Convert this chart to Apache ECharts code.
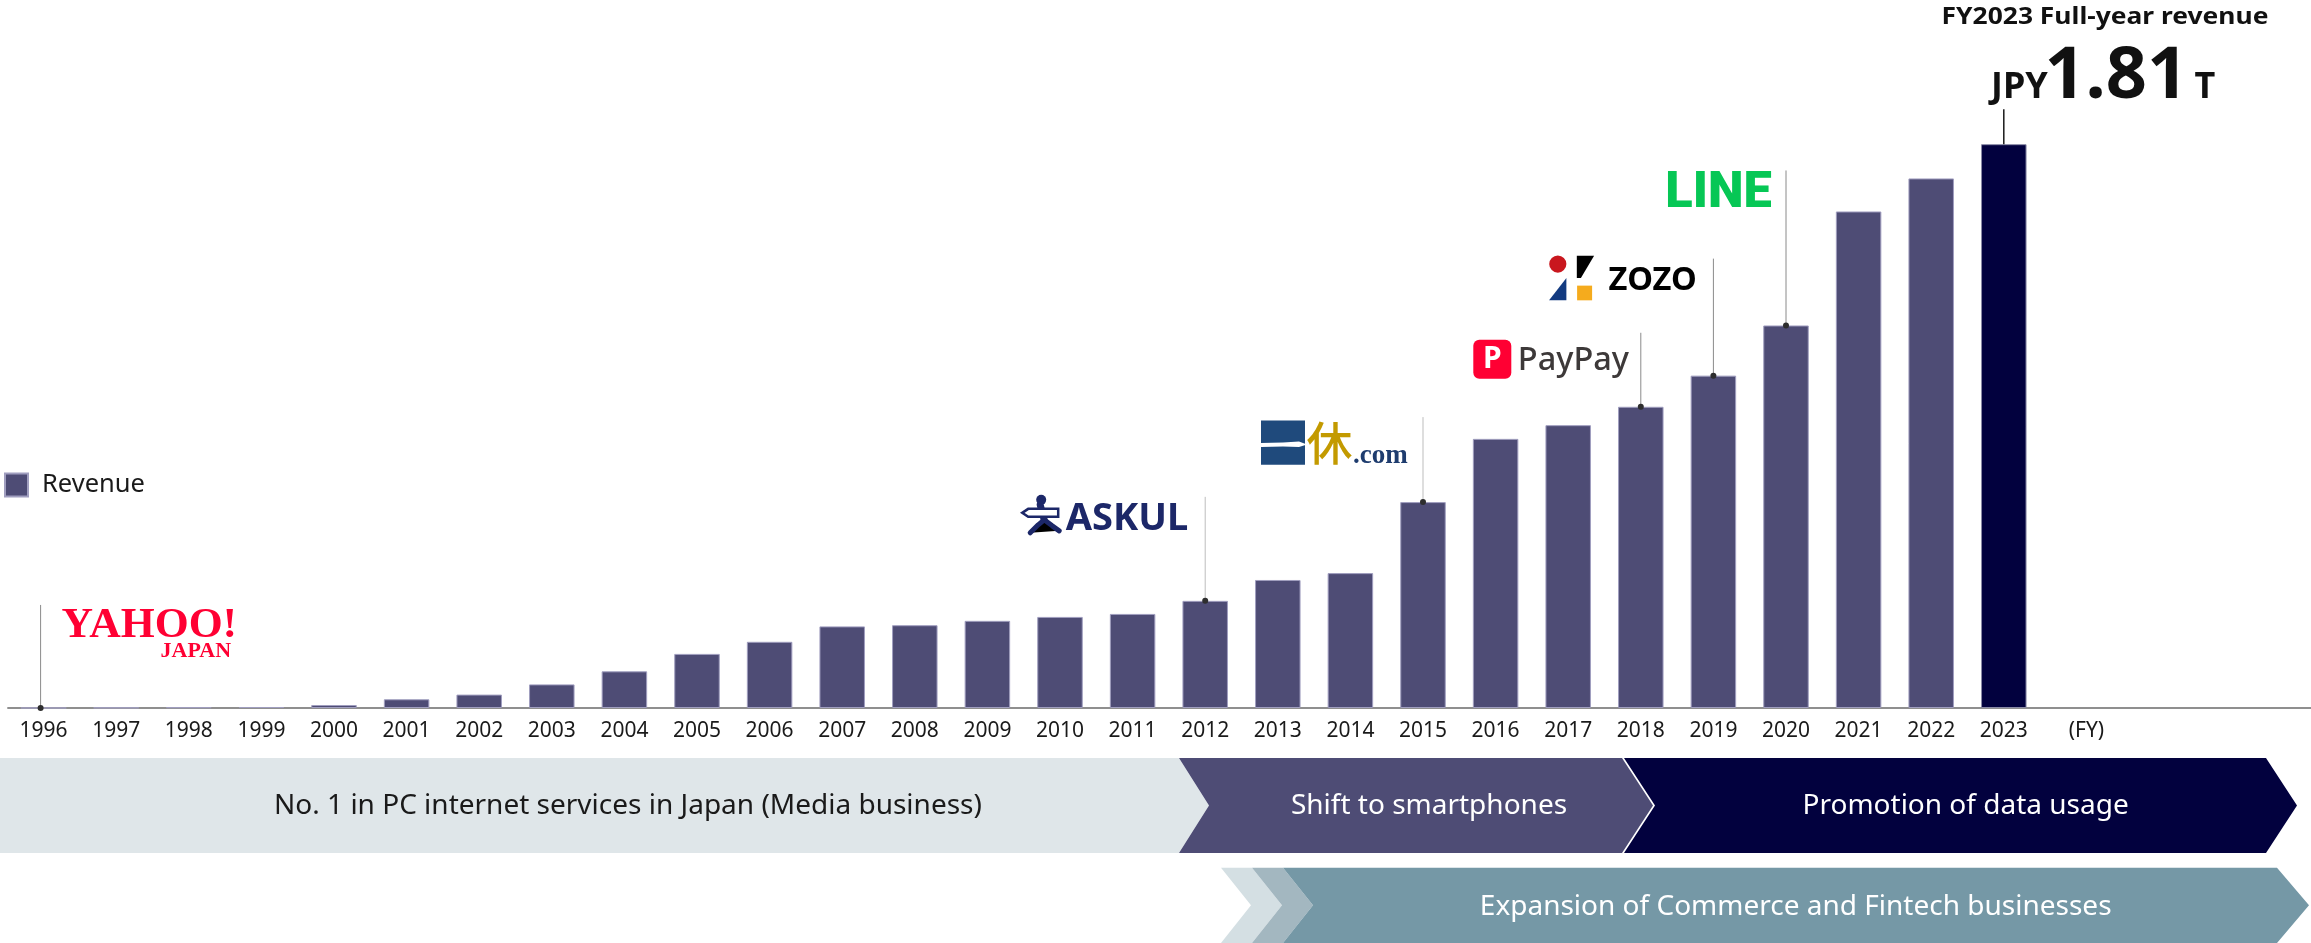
<!DOCTYPE html>
<html>
<head>
<meta charset="utf-8">
<script src="https://cdn.jsdelivr.net/npm/echarts@6/dist/echarts.min.js"></script>
<style>
  html, body { margin: 0; padding: 0; background: #ffffff; }
  #chart { width: 2311px; height: 943px; }
</style>
</head>
<body>
<div id="chart"></div>
<script>
// Fiscal years on the category axis
const years = ['1996','1997','1998','1999','2000','2001','2002','2003','2004','2005',
               '2006','2007','2008','2009','2010','2011','2012','2013','2014','2015',
               '2016','2017','2018','2019','2020','2021','2022','2023'];
const axisTail = '(FY)';

// Revenue per fiscal year, JPY billions
const revenue = [0.2, 1.1, 2.2, 3.1, 9.6, 28, 43, 75.8, 117.7, 173.7,
                 212.5, 262.0, 265.8, 279.8, 292.4, 302, 344, 411, 433, 661,
                 864, 908, 967, 1067, 1228, 1594, 1700, 1810];

// Years that carry a callout above the bar
const milestoneYears = ['1996', '2012', '2015', '2018', '2019', '2020', '2023'];

// Phase bands under the axis
const phaseLabels = ['No. 1 in PC internet services in Japan (Media business)',
                     'Shift to smartphones', 'Promotion of data usage'];
const expansionLabel = 'Expansion of Commerce and Fintech businesses';

const seriesName = 'Revenue';
const headline = 'FY2023 Full-year revenue';

const FONT = '"Noto Sans", sans-serif';
const PURPLE = '#4e4c75';
const NAVY = '#02013e';

function txt(x, y, text, font, fill, align, extra) {
  return Object.assign({
    type: 'text', x: x, y: y,
    style: { text: text, font: font, fill: fill,
             align: align || 'left', textAlign: align || 'left',
             verticalAlign: 'middle', textVerticalAlign: 'middle' }
  }, extra || {});
}

// Brand marks, drawn relative to the top of each leader line
function drawYahoo() {
  return [
    txt(21, 21, 'YAHOO!', 'bold 42px "Liberation Serif", serif', '#ff0033', 'left', { scaleX: 1.04 }),
    txt(120, 46, 'JAPAN', 'bold 22px "Liberation Serif", serif', '#ff0033', 'left')
  ];
}
function drawAskul() {
  const c = '#1c2768';
  return [
    { type: 'circle', shape: { cx: -164, cy: 3, r: 5 }, style: { fill: c } },
    { type: 'polyline', shape: { points: [[-165, 8], [-161, 23]] }, style: { stroke: c, lineWidth: 7, lineCap: 'round' } },
    { type: 'polygon', shape: { points: [[-183, 16], [-177, 12], [-147, 12], [-147, 20], [-177, 20]] },
      style: { fill: '#ffffff', stroke: c, lineWidth: 2.5 } },
    { type: 'polyline', shape: { points: [[-175, 36], [-167, 28], [-161, 23], [-153, 29], [-146, 34]] },
      style: { stroke: c, lineWidth: 5, lineCap: 'round', lineJoin: 'round' } },
    txt(-17, 22, 'ASKUL', 'bold 38px ' + FONT, c, 'right')
  ];
}
function drawIkyu() {
  return [
    { type: 'rect', shape: { x: -162, y: 3.3, width: 44, height: 44.3 }, style: { fill: '#1f4a7c' } },
    { type: 'polygon', shape: { points: [[-162, 26], [-140, 25.5], [-124, 24.5], [-116, 27.5], [-124, 30], [-140, 29.5], [-162, 30]] },
      style: { fill: '#ffffff' } },
    txt(-93.6, 25.5, '休', '500 46px "Noto Sans CJK JP", sans-serif', '#c39a00', 'center'),
    txt(-70, 39.4, '.com', 'bold 27px "Liberation Serif", serif', '#1e3c6e', 'left')
  ];
}
function drawPayPay() {
  return [
    { type: 'rect', shape: { x: -167.5, y: 7, width: 38, height: 39, r: 6 }, style: { fill: '#ff0033' } },
    txt(-148.5, 27, 'P', 'bold 30px ' + FONT, '#ffffff', 'center'),
    txt(-123, 28.4, 'PayPay', '500 32.5px ' + FONT, '#3d3939', 'left')
  ];
}
function drawZozo() {
  return [
    { type: 'circle', shape: { cx: -155.6, cy: 5.4, r: 8.6 }, style: { fill: '#c9171e' } },
    { type: 'polygon', shape: { points: [[-136.6, -3], [-119.3, -3], [-132.5, 19.4], [-136.6, 19.4]] }, style: { fill: '#000000' } },
    { type: 'polygon', shape: { points: [[-147, 19.4], [-147, 41.7], [-164.3, 41.7]] }, style: { fill: '#123a80' } },
    { type: 'rect', shape: { x: -136.3, y: 27, width: 15, height: 14.7 }, style: { fill: '#f5ab1d' } },
    txt(-104.8, 21.7, 'ZOZO', 'bold 32.6px ' + FONT, '#000000', 'left')
  ];
}
function drawLine() {
  return [
    txt(-14.2, 24.2, 'LINE', '900 50.6px Roboto, sans-serif', '#06c755', 'right')
  ];
}
function drawHeadline(value) {
  const trillions = (value / 1000).toFixed(2);
  return [
    txt(101.2, -92.3, headline, 'bold 24px ' + FONT, '#111111', 'center', { scaleX: 1.1 }),
    txt(-12.8, -21.3, 'JPY', 'bold 36px ' + FONT, '#111111', 'left'),
    txt(112.5, -31.5, trillions, 'bold 72px ' + FONT, '#111111', 'center'),
    txt(201, -21.3, 'T', 'bold 36px ' + FONT, '#111111', 'center')
  ];
}

// Leader line length (px above the bar top), horizontal nudge, line style and the mark at its head
const calloutStyle = {
  '1996': { lead: 103, dx: -3, stroke: '#8a8a8a', width: 1, dot: true, draw: drawYahoo },
  '2012': { lead: 104, dx: 0, stroke: '#bdbdbd', width: 1, dot: true, draw: drawAskul },
  '2015': { lead: 85, dx: 0, stroke: '#bdbdbd', width: 1, dot: true, draw: drawIkyu },
  '2018': { lead: 74, dx: 0, stroke: '#8a8a8a', width: 1, dot: true, draw: drawPayPay },
  '2019': { lead: 117, dx: 0, stroke: '#8a8a8a', width: 1, dot: true, draw: drawZozo },
  '2020': { lead: 155, dx: 0, stroke: '#8a8a8a', width: 1, dot: true, draw: drawLine },
  '2023': { lead: 35, dx: 0, stroke: '#1a1a1a', width: 1.5, dot: false, draw: drawHeadline }
};

function renderCallout(params, api) {
  const year = milestoneYears[params.dataIndex];
  const cfg = calloutStyle[year];
  const p = api.coord([api.value(0), api.value(1)]);
  const x = p[0] + cfg.dx, yBar = p[1], yTop = yBar - cfg.lead;
  const kids = [{
    type: 'line', shape: { x1: x, y1: yTop, x2: x, y2: yBar },
    style: { stroke: cfg.stroke, lineWidth: cfg.width }
  }];
  if (cfg.dot) {
    kids.push({ type: 'circle', shape: { cx: x, cy: yBar, r: 3 }, style: { fill: '#2e2e2e' } });
  }
  kids.push({ type: 'group', x: x, y: yTop, children: cfg.draw(api.value(1)) });
  return { type: 'group', children: kids };
}

const lastIndex = revenue.length - 1;
const barData = revenue.map((v, i) => i === lastIndex
  ? { value: v, itemStyle: { color: NAVY, borderColor: '#8a8aa6' } }
  : v);
const calloutData = milestoneYears.map(y => {
  const i = years.indexOf(y);
  return [i, revenue[i]];
});

// Chevron bands below the chart
function bandGraphics() {
  const r1 = [758, 805.5, 853];
  const r2 = [867.7, 905.3, 943];
  const band = (pts, fill) => ({ type: 'polygon', shape: { points: pts }, style: { fill: fill }, silent: true });
  const label = (x, y, text, fill) => ({
    type: 'text', x: x, y: y, silent: true,
    style: { text: text, font: '28px ' + FONT, fill: fill, align: 'center', textAlign: 'center',
             verticalAlign: 'middle', textVerticalAlign: 'middle' }
  });
  return [
    band([[0, r1[0]], [1179, r1[0]], [1209, r1[1]], [1179, r1[2]], [0, r1[2]]], '#dfe6e9'),
    band([[1179, r1[0]], [1622, r1[0]], [1653, r1[1]], [1622, r1[2]], [1179, r1[2]], [1209, r1[1]]], PURPLE),
    band([[1624, r1[0]], [2266, r1[0]], [2297, r1[1]], [2266, r1[2]], [1624, r1[2]], [1655, r1[1]]], NAVY),
    band([[1221, r2[0]], [1252, r2[0]], [1282, r2[1]], [1252, r2[2]], [1221, r2[2]], [1251, r2[1]]], '#d4dfe3'),
    band([[1252, r2[0]], [1283, r2[0]], [1313, r2[1]], [1283, r2[2]], [1252, r2[2]], [1282, r2[1]]], '#a3b7c0'),
    band([[1283, r2[0]], [2277, r2[0]], [2309, r2[1]], [2277, r2[2]], [1283, r2[2]], [1313, r2[1]]], '#7598a6'),
    label(628, 806.5, phaseLabels[0], '#1a1a1a'),
    label(1429, 806.5, phaseLabels[1], '#ffffff'),
    label(1965.6, 806.5, phaseLabels[2], '#ffffff'),
    label(1795.7, 907, expansionLabel, '#ffffff')
  ];
}

const chart = echarts.init(document.getElementById('chart'), null, { renderer: 'canvas' });
chart.setOption({
  animation: false,
  backgroundColor: '#ffffff',
  textStyle: { fontFamily: FONT },
  grid: { left: 7.3, right: 198.3, top: 85, bottom: 235, containLabel: false, outerBoundsMode: 'none' },
  legend: {
    data: [seriesName], left: 4, top: 472, padding: 0, icon: 'rect',
    itemWidth: 23, itemHeight: 23, selectedMode: false,
    textStyle: { fontSize: 25.5, color: '#1a1a1a', fontFamily: FONT, padding: [0, 0, 0, 9] }
  },
  xAxis: {
    type: 'category',
    data: years.concat([axisTail]),
    axisLine: { show: false },
    axisTick: { show: false },
    axisLabel: {
      interval: 0, margin: 13, fontSize: 21, color: '#1a1a1a', fontFamily: FONT,
      formatter: v => v === axisTail ? '{fy|' + v + '}' : v,
      rich: { fy: { fontSize: 21, color: '#1a1a1a', fontFamily: FONT, padding: [0, 0, 0, 20] } }
    }
  },
  yAxis: { type: 'value', min: 0, max: 2000, show: false, splitLine: { show: false } },
  series: [
    {
      name: seriesName, type: 'bar', data: barData, barWidth: 45.5,
      itemStyle: { color: PURPLE, borderColor: '#a09ebf', borderWidth: 1 },
      z: 3
    },
    {
      name: 'callouts', type: 'custom', data: calloutData, renderItem: renderCallout,
      silent: true, z: 5, clip: false
    }
  ]
});

// Baseline running under the bars to the right edge, plus the phase bands
const y0 = chart.convertToPixel({ yAxisIndex: 0 }, 0);
const xa = chart.convertToPixel({ xAxisIndex: 0 }, years[0]);
const xb = chart.convertToPixel({ xAxisIndex: 0 }, years[1]);
const startX = xa - (xb - xa) / 2;
chart.setOption({
  graphic: [
    { type: 'line', shape: { x1: startX, y1: y0, x2: 2311, y2: y0 },
      style: { stroke: '#8f8f8f', lineWidth: 2 }, z: 1, silent: true }
  ].concat(bandGraphics())
});
</script>
</body>
</html>
